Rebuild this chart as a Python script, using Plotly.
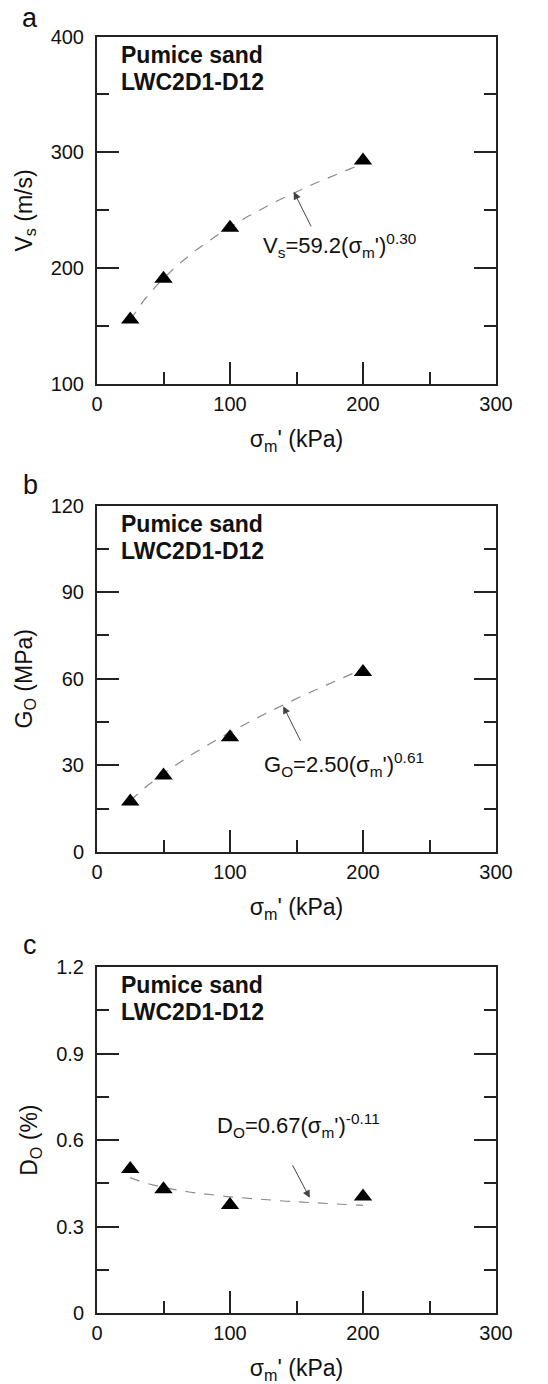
import numpy as np
import plotly.graph_objects as go

# ---------------- data ----------------
stress = [25, 50, 100, 200]               # sigma_m' (kPa)
vs_vals = [156, 191, 235, 293]            # Vs (m/s)
g0_vals = [17.5, 26.5, 39.7, 62.3]        # G0 (MPa)
d0_vals = [0.50, 0.43, 0.375, 0.405]      # D0 (%)

# power-law fits printed on the chart: y = A * sigma^B
vs_fit = (59.2, 0.30)
g0_fit = (2.50, 0.61)
d0_fit = (0.67, -0.11)
fit_range = (25, 200)

x_ticks = [0, 100, 200, 300]
vs_ticks = [100, 200, 300, 400]
g0_ticks = [0, 30, 60, 90, 120]
d0_ticks = [0, 0.3, 0.6, 0.9, 1.2]
d0_ticklabels = ["0", "0.3", "0.6", "0.9", "1.2"]
label_lines = ["Pumice sand", "LWC2D1-D12"]

# ---------------- styling ----------------
FONT = "Arial, Liberation Sans, Helvetica, sans-serif"
INK = "#111111"
AX = "#222222"
W, H = 548, 1384

xdom = [97 / W, 496 / W]
ydoms = [
    [1 - 384.3 / H, 1 - 36.5 / H],
    [1 - 852.0 / H, 1 - 505.5 / H],
    [1 - 1313.3 / H, 1 - 967.0 / H],
]

fig = go.Figure()

xs_fit = np.linspace(fit_range[0], fit_range[1], 80)
panels = [
    (vs_vals, vs_fit, "y"),
    (g0_vals, g0_fit, "y2"),
    (d0_vals, d0_fit, "y3"),
]
xrefs = ["x", "x2", "x3"]
yrefs = ["y", "y2", "y3"]
for i, (vals, (A, B), yref) in enumerate(panels):
    fig.add_trace(go.Scatter(
        x=xs_fit, y=A * xs_fit ** B, mode="lines",
        line=dict(color="#8a8a8a", width=1.2, dash="10px,9px"),
        xaxis=xrefs[i], yaxis=yref, showlegend=False, hoverinfo="skip"))
    fig.add_trace(go.Scatter(
        x=stress, y=vals, mode="markers",
        marker=dict(symbol="triangle-up", size=16, color="black"),
        xaxis=xrefs[i], yaxis=yref, showlegend=False))

def xaxis_cfg(i):
    return dict(
        domain=xdom, anchor=yrefs[i], range=[0, 300], automargin=False,
        tickmode="array", tickvals=x_ticks,
        ticks="inside", ticklen=22, tickwidth=2, tickcolor=AX,
        minor=dict(dtick=50, tick0=0, ticks="inside", ticklen=12, tickwidth=2, tickcolor=AX, showgrid=False),
        showline=True, linewidth=2, linecolor=AX, mirror=True,
        showgrid=False, zeroline=False,
        tickfont=dict(family=FONT, size=20, color=INK),
        ticklabelstandoff=1,
        title=dict(text="σ<sub>m</sub>' (kPa)", font=dict(family=FONT, size=23, color=INK), standoff=17),
    )

def yaxis_cfg(i, rng, tickvals, ticktext, title, minor_dtick, minor_tick0):
    return dict(
        domain=ydoms[i], anchor=xrefs[i], range=rng, automargin=False,
        tickmode="array", tickvals=tickvals, ticktext=ticktext,
        ticks="inside", ticklen=22, tickwidth=2, tickcolor=AX,
        minor=dict(dtick=minor_dtick, tick0=minor_tick0, ticks="inside", ticklen=12, tickwidth=2, tickcolor=AX, showgrid=False),
        showline=True, linewidth=2, linecolor=AX, mirror="ticks",
        showgrid=False, zeroline=False,
        tickfont=dict(family=FONT, size=20, color=INK),
        ticklabelstandoff=7,
        title=dict(text=title, font=dict(family=FONT, size=23, color=INK), standoff=12),
    )

fig.update_layout(
    width=W, height=H,
    margin=dict(l=0, r=0, t=0, b=0, autoexpand=False),
    paper_bgcolor="white", plot_bgcolor="white",
    font=dict(family=FONT, color=INK),
    xaxis=xaxis_cfg(0), xaxis2=xaxis_cfg(1), xaxis3=xaxis_cfg(2),
    yaxis=yaxis_cfg(0, [100, 400], vs_ticks, [str(v) for v in vs_ticks], "V<sub>s</sub> (m/s)", 50, 0),
    yaxis2=yaxis_cfg(1, [0, 120], g0_ticks, [str(v) for v in g0_ticks], "G<sub>O</sub> (MPa)", 15, 0),
    yaxis3=yaxis_cfg(2, [0, 1.2], d0_ticks, d0_ticklabels, "D<sub>O</sub> (%)", 0.15, 0),
)

# panel letters
for letter, ypx in [("a", 18), ("b", 485), ("c", 945)]:
    fig.add_annotation(text=letter, xref="paper", yref="paper", x=30 / W, y=1 - ypx / H,
                       xanchor="center", yanchor="middle", showarrow=False,
                       font=dict(family=FONT, size=27, color=INK))

# sample labels (two lines, each placed to match the reference line spacing)
for i in range(3):
    for line, yfrac in zip(label_lines, [0.948, 0.870]):
        fig.add_annotation(text=line,
                           xref=f"{xrefs[i]} domain", yref=f"{yrefs[i]} domain",
                           x=0.055, y=yfrac, xanchor="left", yanchor="middle", align="left",
                           showarrow=False,
                           font=dict(family=FONT, size=23, color=INK, weight="bold"))

# equations
eqs = [
    ("V<sub>s</sub>=59.2(σ<sub>m</sub>')<sup>0.30</sup>", 123, 220, "x", "y"),
    ("G<sub>O</sub>=2.50(σ<sub>m</sub>')<sup>0.61</sup>", 124, 30.3, "x2", "y2"),
    ("D<sub>O</sub>=0.67(σ<sub>m</sub>')<sup>-0.11</sup>", 89, 0.652, "x3", "y3"),
]
for txt, x, y, xr, yr in eqs:
    fig.add_annotation(text=txt, xref=xr, yref=yr, x=x, y=y, xanchor="left", yanchor="middle",
                       showarrow=False, font=dict(family=FONT, size=22, color=INK))

# arrows pointing at the fit curves
arrows = [
    (148, 266, 18, 36, "x", "y"),
    (140, 50.5, 18, 36, "x2", "y2"),
    (160, 0.40, -18, -34, "x3", "y3"),
]
for x, y, ax, ay, xr, yr in arrows:
    fig.add_annotation(text="", xref=xr, yref=yr, x=x, y=y, ax=ax, ay=ay,
                       showarrow=True, arrowhead=2, arrowsize=1.5, arrowwidth=1,
                       arrowcolor="#444444")

fig.write_html("out.html")
